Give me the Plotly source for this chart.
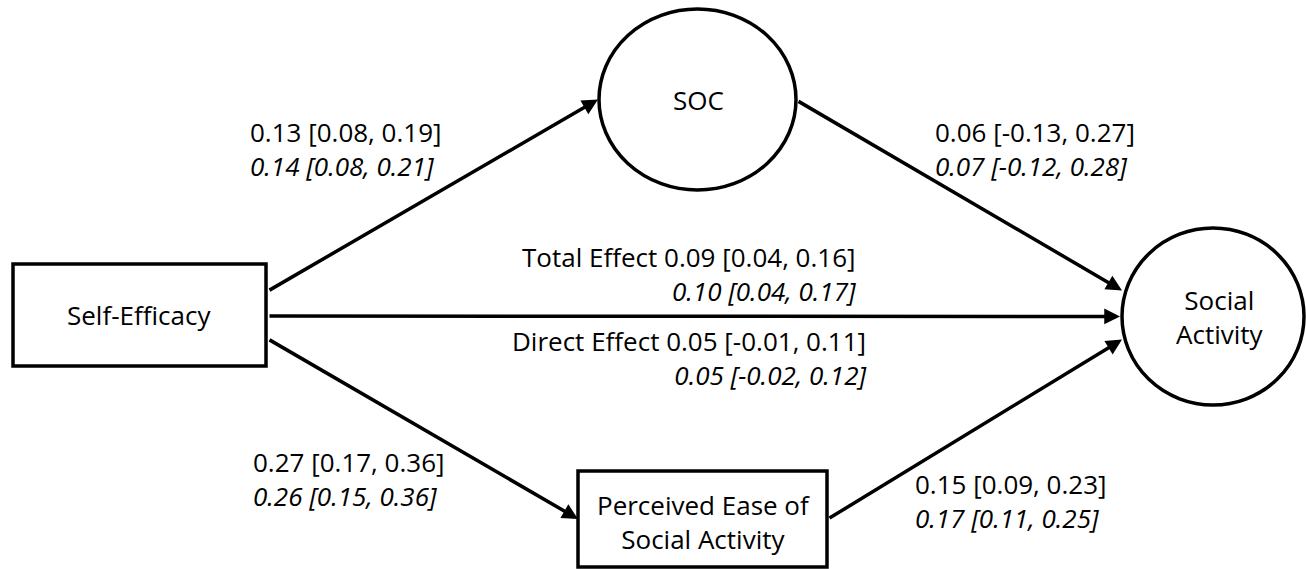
import plotly.graph_objects as go

# Path estimates: unstandardised (upright) and standardised (italic), with 95% CIs
paths = ["se_soc", "soc_sa", "total", "direct", "se_pe", "pe_sa"]
prefix = ["", "", "Total Effect ", "Direct Effect ", "", ""]
est = [0.13, 0.06, 0.09, 0.05, 0.27, 0.15]
ci_lo = [0.08, -0.13, 0.04, -0.01, 0.17, 0.09]
ci_hi = [0.19, 0.27, 0.16, 0.11, 0.36, 0.23]
est_std = [0.14, 0.07, 0.10, 0.05, 0.26, 0.17]
ci_lo_std = [0.08, -0.12, 0.04, -0.02, 0.15, 0.11]
ci_hi_std = [0.21, 0.28, 0.17, 0.12, 0.36, 0.25]

W, H = 1306, 569
FONT = "Open Sans"
FS = 26
LW = 3.5

# Node geometry (pixel space, y grows downward)
nodes = {
    "se": dict(kind="rect", x0=13, x1=266, y0=264, y1=366, text="Self-Efficacy", tx=139, ty=315),
    "soc": dict(kind="ellipse", x0=599, x1=796, y0=9, y1=190, text="SOC", tx=698, ty=100),
    "sa": dict(kind="ellipse", x0=1122, x1=1304, y0=228, y1=405, text="Social<br>Activity", tx=1220, ty=317),
    "pe": dict(kind="rect", x0=578, x1=827, y0=471, y1=567, text="Perceived Ease of<br>Social Activity", tx=703, ty=522),
}

def cy(n):
    return (nodes[n]["y0"] + nodes[n]["y1"]) / 2

# Edges: (source anchor, target anchor)
edges = [
    ((nodes["se"]["x1"] + 2, cy("se") - 24), (nodes["soc"]["x0"] - 1, cy("soc"))),
    ((nodes["soc"]["x1"] + 1, cy("soc") + 1), (nodes["sa"]["x0"], cy("sa") - 26)),
    ((nodes["se"]["x1"] + 2, cy("se") + 1), (nodes["sa"]["x0"] - 2, cy("sa"))),
    ((nodes["se"]["x1"] + 2, cy("se") + 24), (nodes["pe"]["x0"], cy("pe") - 0)),
    ((nodes["pe"]["x1"] + 1, cy("pe") - 0), (nodes["sa"]["x0"], cy("sa") + 23)),
]

fig = go.Figure()

shapes = []
annotations = []
for key, n in nodes.items():
    shapes.append(dict(type="rect" if n["kind"] == "rect" else "circle",
                       xref="x", yref="y", x0=n["x0"], x1=n["x1"], y0=n["y0"], y1=n["y1"],
                       line=dict(color="black", width=LW), fillcolor="white", layer="above"))
    annotations.append(dict(x=n["tx"], y=n["ty"], xref="x", yref="y", text=n["text"],
                            showarrow=False, xanchor="center", yanchor="middle", align="center",
                            font=dict(family=FONT, size=FS, color="black")))

for (x0, y0), (x1, y1) in edges:
    annotations.append(dict(x=x1, y=y1, ax=x0, ay=y0, xref="x", yref="y", axref="x", ayref="y",
                            text="", showarrow=True, arrowhead=2, arrowsize=0.9,
                            arrowwidth=LW, arrowcolor="black"))

# Label placement per path: (x, anchor, y centre of the two-line block)
label_pos = {
    "se_soc": (248, "left", 149),
    "soc_sa": (933, "left", 149),
    "total": (858, "right", 274),
    "direct": (868, "right", 358),
    "se_pe": (251, "left", 479),
    "pe_sa": (913, "left", 501),
}

def fmt(v):
    return f"{v:.2f}"

for i, p in enumerate(paths):
    x, anchor, yc = label_pos[p]
    t1 = f"{prefix[i]}{fmt(est[i])} [{fmt(ci_lo[i])}, {fmt(ci_hi[i])}]"
    t2 = f"{fmt(est_std[i])} [{fmt(ci_lo_std[i])}, {fmt(ci_hi_std[i])}]"
    annotations.append(dict(x=x, y=yc, xref="x", yref="y", text=f"{t1}<br><i>{t2}</i>",
                            showarrow=False, xanchor=anchor, yanchor="middle", align=anchor,
                            font=dict(family=FONT, size=FS, color="black")))

fig.update_layout(
    width=W, height=H, margin=dict(l=0, r=0, t=0, b=0),
    paper_bgcolor="white", plot_bgcolor="white",
    xaxis=dict(range=[0, W], visible=False, fixedrange=True),
    yaxis=dict(range=[H, 0], visible=False, fixedrange=True),
    shapes=shapes, annotations=annotations, showlegend=False,
)

fig.write_html("out.html", config={"displayModeBar": False})
